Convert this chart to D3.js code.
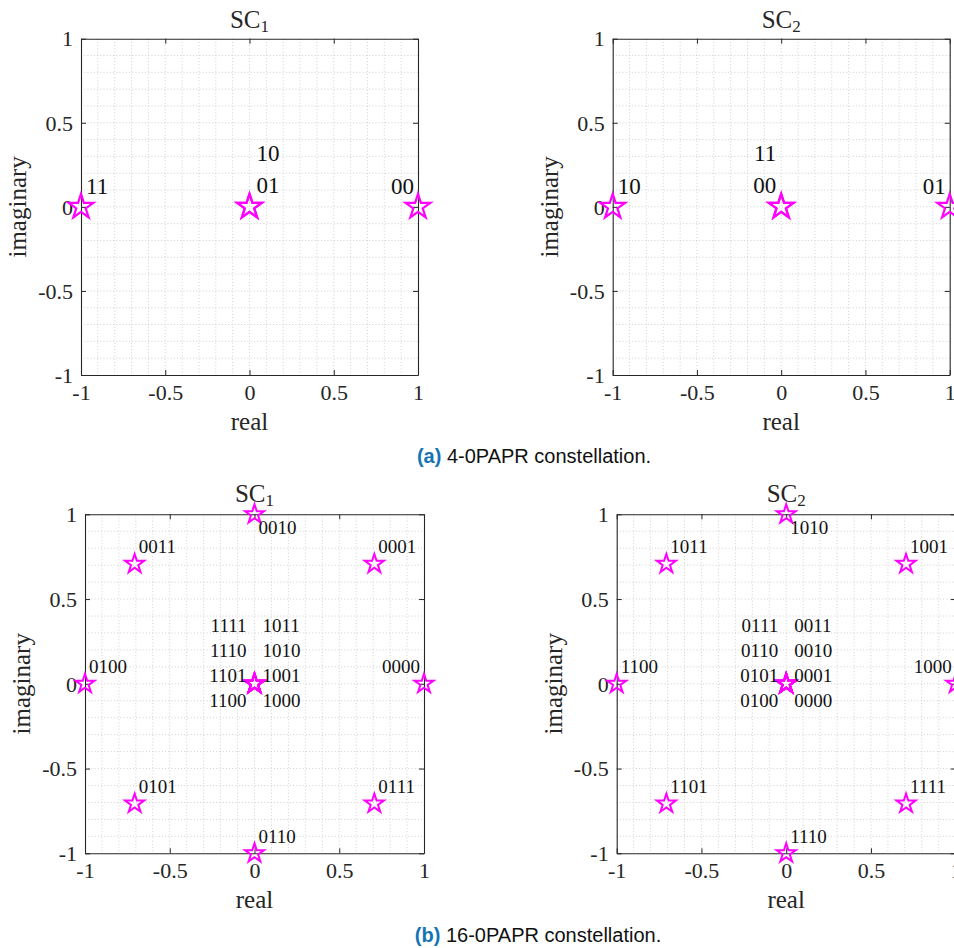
<!DOCTYPE html>
<html>
<head>
<meta charset="utf-8">
<script src="https://cdn.jsdelivr.net/npm/d3@7"></script>
<style>
  html, body { margin: 0; padding: 0; background: #fff; }
  svg { display: block; }
</style>
</head>
<body>
<svg id="chart" width="954" height="948"></svg>
<script>
// ---------------- data ----------------
const axisTicks = [-1, -0.5, 0, 0.5, 1];
const axisTickLabels = ["-1", "-0.5", "0", "0.5", "1"];
const minorGridValues = [-0.9, -0.8, -0.7, -0.6, -0.4, -0.3, -0.2, -0.1, 0.1, 0.2, 0.3, 0.4, 0.6, 0.7, 0.8, 0.9];

// 4-0PAPR constellation
const sc1_4_bits = ["00", "11", "01", "10"];
const sc1_4_re   = [1, -1, 0, 0];
const sc1_4_im   = [0, 0, 0, 0];
const sc2_4_bits = ["01", "10", "00", "11"];
const sc2_4_re   = [1, -1, 0, 0];
const sc2_4_im   = [0, 0, 0, 0];

// 16-0PAPR constellation
const sc1_16_bits = ["0000", "0001", "0010", "0011", "0100", "0101", "0110", "0111",
                     "1111", "1110", "1101", "1100", "1011", "1010", "1001", "1000"];
const sc2_16_bits = ["1000", "1001", "1010", "1011", "1100", "1101", "1110", "1111",
                     "0111", "0110", "0101", "0100", "0011", "0010", "0001", "0000"];
const pts16_re = [1, 0.7071, 0, -0.7071, -1, -0.7071, 0, 0.7071, 0, 0, 0, 0, 0, 0, 0, 0];
const pts16_im = [0, 0.7071, 1, 0.7071, 0, -0.7071, -1, -0.7071, 0, 0, 0, 0, 0, 0, 0, 0];

const titleSub = ["1", "2"];
const xLabelText = "real";
const yLabelText = "imaginary";
const captionTags = ["(a)", "(b)"];
const captionTexts = [" 4-0PAPR constellation.", " 16-0PAPR constellation."];

// ---------------- layout / style ----------------
const svg = d3.select("#chart");
const serif = "'Liberation Serif', 'Times New Roman', serif";
const sans = "'Liberation Sans', Arial, Helvetica, sans-serif";
const axisColor = "#262626";
const magenta = "#ff00ff";

const panels = [
  { box: {x: 81, y: 38.7, w: 337, h: 336.3}, bits: sc1_4_bits, re: sc1_4_re, im: sc1_4_im, sub: titleSub[0],
    kind: 4, centerAnchor: "start" },
  { box: {x: 612.7, y: 38.7, w: 337, h: 336.3}, bits: sc2_4_bits, re: sc2_4_re, im: sc2_4_im, sub: titleSub[1],
    kind: 4, centerAnchor: "end" },
  { box: {x: 85, y: 514.3, w: 339, h: 339}, bits: sc1_16_bits, re: pts16_re, im: pts16_im, sub: titleSub[0],
    kind: 16 },
  { box: {x: 616.7, y: 514.3, w: 339, h: 339}, bits: sc2_16_bits, re: pts16_re, im: pts16_im, sub: titleSub[1],
    kind: 16 }
];

panels.forEach(p => {
  const b = p.box;
  const x = d3.scaleLinear().domain([-1, 1]).range([b.x, b.x + b.w]);
  const y = d3.scaleLinear().domain([-1, 1]).range([b.y + b.h, b.y]);
  const g = svg.append("g");

  // grid (dotted, every 0.1 incl. majors)
  const gridVals = minorGridValues.concat(axisTicks.filter(v => Math.abs(v) < 1));
  const grid = g.append("g").attr("stroke", "#cfcfcf").attr("stroke-width", 1)
    .attr("stroke-dasharray", "1,2.2").attr("fill", "none");
  grid.selectAll("line.v").data(gridVals).join("line").attr("class", "v")
    .attr("x1", d => x(d)).attr("x2", d => x(d)).attr("y1", y(1)).attr("y2", y(-1));
  grid.selectAll("line.h").data(gridVals).join("line").attr("class", "h")
    .attr("y1", d => y(d)).attr("y2", d => y(d)).attr("x1", x(-1)).attr("x2", x(1));

  // axes via d3 axis generators (ticks inward)
  const fmt = (d) => axisTickLabels[axisTicks.indexOf(d)];
  const tickFont = 22;
  const bottomAxis = g.append("g").attr("transform", `translate(0,${y(-1)})`)
    .call(d3.axisBottom(x).tickValues(axisTicks).tickFormat(fmt).tickSizeInner(-5).tickSizeOuter(0).tickPadding(0));
  const leftAxis = g.append("g").attr("transform", `translate(${x(-1)},0)`)
    .call(d3.axisLeft(y).tickValues(axisTicks).tickFormat(fmt).tickSizeInner(-5).tickSizeOuter(0).tickPadding(0));
  const topAxis = g.append("g").attr("transform", `translate(0,${y(1)})`)
    .call(d3.axisTop(x).tickValues(axisTicks).tickFormat("").tickSizeInner(-5).tickSizeOuter(0));
  const rightAxis = g.append("g").attr("transform", `translate(${x(1)},0)`)
    .call(d3.axisRight(y).tickValues(axisTicks).tickFormat("").tickSizeInner(-5).tickSizeOuter(0));
  [bottomAxis, leftAxis, topAxis, rightAxis].forEach(a => {
    a.attr("font-family", null).attr("font-size", null);
    a.selectAll(".domain").attr("stroke", axisColor).attr("stroke-width", 1.1);
    a.selectAll(".tick line").attr("stroke", axisColor).attr("stroke-width", 1);
  });
  bottomAxis.selectAll(".tick text")
    .attr("y", 25).attr("dy", null)
    .style("font-family", serif).style("font-size", tickFont + "px").attr("fill", axisColor);
  leftAxis.selectAll(".tick text")
    .attr("x", -8).attr("dy", "0.33em")
    .style("font-family", serif).style("font-size", tickFont + "px").attr("fill", axisColor);

  // axis labels
  g.append("text").attr("x", (x(-1) + x(1)) / 2).attr("y", y(-1) + 55)
    .attr("text-anchor", "middle").style("font-family", serif).style("font-size", "25px")
    .attr("fill", axisColor).text(xLabelText);
  g.append("text")
    .attr("transform", `translate(${x(-1) - 55},${(y(-1) + y(1)) / 2}) rotate(-90)`)
    .attr("text-anchor", "middle").style("font-family", serif).style("font-size", "25px")
    .attr("fill", axisColor).text(yLabelText);

  // title
  const t = g.append("text").attr("x", (x(-1) + x(1)) / 2).attr("y", y(1) - (p.kind === 4 ? 10.5 : 12.5))
    .attr("text-anchor", "middle").style("font-family", serif).style("font-size", "25px").attr("fill", axisColor);
  t.append("tspan").text("SC");
  t.append("tspan").style("font-size", "17px").attr("dy", 4).text(p.sub);

  // points
  const pts = p.bits.map((bits, i) => ({ bits, re: p.re[i], im: p.im[i] }));
  const seen = {};
  pts.forEach(d => {
    const key = d.re + "," + d.im;
    d.k = seen[key] || 0;
    seen[key] = d.k + 1;
    d.center = (d.re === 0 && d.im === 0);
  });

  const R = p.kind === 4 ? 13 : 10;
  const star = d3.symbol().type(d3.symbolStar).size(R * R / 0.8908130915292852);
  g.append("g").selectAll("path").data(pts).join("path")
    .attr("d", star)
    .attr("transform", d => `translate(${x(d.re)},${y(d.im)})`)
    .attr("fill", "none").attr("stroke", magenta).attr("stroke-width", p.kind === 4 ? 2.2 : 2)
    .attr("stroke-linejoin", "miter");

  // labels
  const labFont = p.kind === 4 ? 23 : 19;
  const labs = g.append("g").style("font-family", serif).style("font-size", labFont + "px").attr("fill", "#111");
  pts.forEach(d => {
    let anchor = "start", dx = 4, dy = -10.5;
    if (p.kind === 4) {
      dy = -12.5;
      if (d.center) {
        anchor = p.centerAnchor;
        dx = anchor === "start" ? 7 : -5;
        dy = -13.5 - 32 * d.k;
      } else if (d.re === 1) { anchor = "end"; dx = -4; }
      else { dx = 5; }
    } else {
      if (d.center) {
        const col = Math.floor(d.k / 4), row = d.k % 4;
        anchor = col === 0 ? "end" : "start";
        dx = col === 0 ? -8 : 8;
        dy = -52.3 + 25 * row;
      } else if (d.re === 1) { anchor = "end"; dx = -4; dy = -11; }
      else if (d.im === 1) { dy = 20; }
    }
    labs.append("text").attr("x", x(d.re) + dx).attr("y", y(d.im) + dy)
      .attr("text-anchor", anchor).text(d.bits);
  });
});

// captions
const captionPos = [{x: 534, y: 463}, {x: 538, y: 942}];
captionTags.forEach((tag, i) => {
  const c = svg.append("text").attr("x", captionPos[i].x).attr("y", captionPos[i].y)
    .attr("text-anchor", "middle").style("font-family", sans).style("font-size", "20px").attr("fill", "#111");
  c.append("tspan").attr("font-weight", "bold").attr("fill", "#1474b4").text(tag);
  c.append("tspan").text(captionTexts[i]);
});
</script>
</body>
</html>
